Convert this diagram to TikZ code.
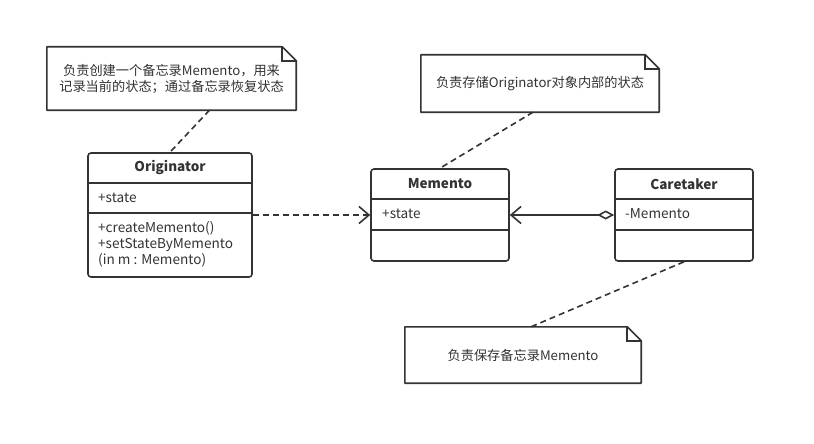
\documentclass[tikz,border=0pt]{standalone}
\usepackage{fontspec}
\setmainfont{Noto Sans CJK SC}
\usetikzlibrary{arrows.meta}

\definecolor{ink}{HTML}{333333}

\tikzset{
  cls/.style={draw=ink, line width=1.6pt, rounded corners=3pt, fill=white},
  sep/.style={draw=ink, line width=1.6pt},
  ttl/.style={font=\bfseries\fontsize{13.5}{15}\selectfont, text=ink},
  txt/.style={font=\fontsize{13.6}{16}\selectfont, text=ink, inner sep=0pt},
  note/.style={inner sep=0pt, align=center, font=\fontsize{13.2}{16}\selectfont, text=ink},
  link/.style={draw=ink, line width=1.6pt, dash pattern=on 6pt off 4pt},
}

% note outline with folded corner
\newcommand{\dogear}[1]{%
  \draw[ink, line width=1.6pt, line join=round] (#1.south west) -- (#1.north west)
    -- ([xshift=-14pt]#1.north east) -- ([yshift=-14pt]#1.north east)
    -- (#1.south east) -- cycle;
  \draw[ink, line width=1.6pt] ([xshift=-14pt]#1.north east) |- ([yshift=-14pt]#1.north east);}

\begin{document}
\begin{tikzpicture}[x=1pt, y=-1pt]
  \useasboundingbox[fill=white] (0,0) rectangle (814,444);

  % classes
  \node[cls, minimum width=164pt, minimum height=124pt] (orig) at (170,215) {};
  \node[cls, minimum width=138pt, minimum height=92pt]  (mem)  at (440,215) {};
  \node[cls, minimum width=138pt, minimum height=92pt]  (care) at (684,215) {};

  \draw[sep] (orig.west |- 0,183) -- (orig.east |- 0,183);
  \draw[sep] (orig.west |- 0,213) -- (orig.east |- 0,213);
  \draw[sep] (mem.west |- 0,199) -- (mem.east |- 0,199);
  \draw[sep] (mem.west |- 0,230) -- (mem.east |- 0,230);
  \draw[sep] (care.west |- 0,199) -- (care.east |- 0,199);
  \draw[sep] (care.west |- 0,230) -- (care.east |- 0,230);

  \node[ttl] (origname) at (170,168) {Originator};
  \node[ttl] (memname)  at (440,184) {Memento};
  \node[ttl] (carename) at (684,184) {Caretaker};

  \node[txt, anchor=west] (origattr) at (98,198) {+state};
  \node[txt, anchor=north west, align=left] (origops) at (98,221)
    {+createMemento()\\+setStateByMemento\\(in m : Memento)};
  \node[txt, anchor=west] (memattr)  at (382,214) {+state};
  \node[txt, anchor=west] (careattr) at (625,214) {-Memento};

  % notes
  \node[note, minimum width=249pt, minimum height=63pt] (n1) at (171.5,78.5)
    {负责创建一个备忘录Memento，用来\\记录当前的状态；通过备忘录恢复状态};
  \node[note, minimum width=238pt, minimum height=57pt] (n2) at (540,83.5)
    {负责存储Originator对象内部的状态};
  \node[note, minimum width=236pt, minimum height=56pt] (n3) at (523,355)
    {负责保存备忘录Memento};
  \dogear{n1}
  \dogear{n2}
  \dogear{n3}

  % connectors
  \draw[link, -{Straight Barb[length=10pt, width=17pt]}] (orig.east) -- (mem.west);
  \draw[sep, {Straight Barb[length=10pt, width=17pt]}-{Diamond[open, length=17pt, width=9pt]}]
    (mem.east) -- (care.west);
  \draw[link] ([xshift=38pt]n1.south) -- (orig.north);
  \draw[link] ([xshift=-7pt]n2.south) -- (mem.north);
  \draw[link] (care.south) -- ([xshift=8pt]n3.north);
\end{tikzpicture}
\end{document}
